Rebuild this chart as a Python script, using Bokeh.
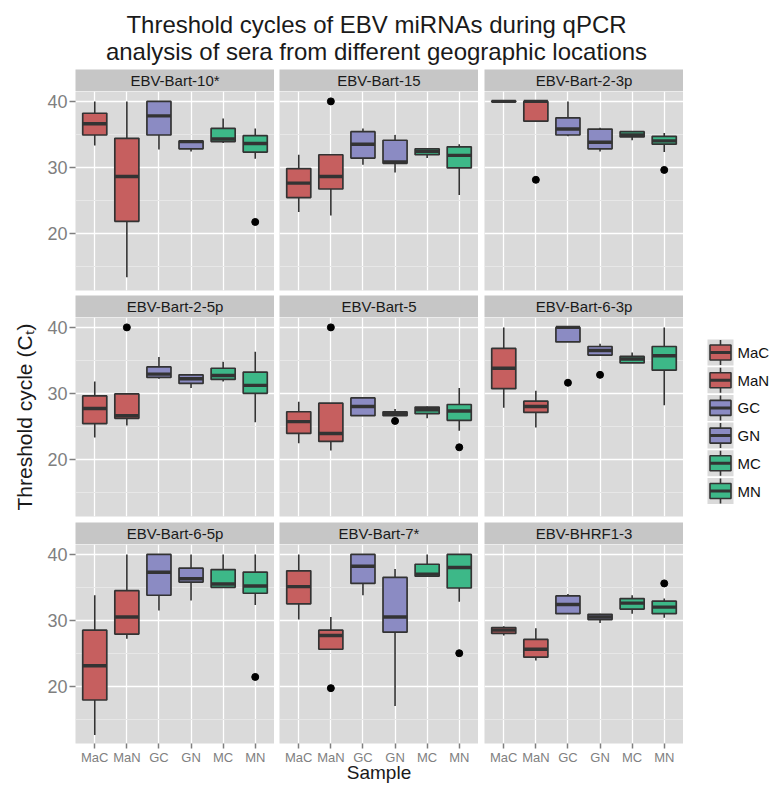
from bokeh.plotting import figure
from bokeh.layouts import row, column
from bokeh.models import (Range1d, FactorRange, Label, SingleIntervalTicker,
                          CategoricalTicker, Grid, ColumnDataSource)
from bokeh.transform import dodge
from bokeh.core.properties import value
from bokeh.embed import file_html
from bokeh.resources import INLINE

# ---------------- data ----------------
panels = ["EBV-Bart-10*", "EBV-Bart-15", "EBV-Bart-2-3p",
          "EBV-Bart-2-5p", "EBV-Bart-5", "EBV-Bart-6-3p",
          "EBV-Bart-6-5p", "EBV-Bart-7*", "EBV-BHRF1-3"]
categories = ["MaC", "MaN", "GC", "GN", "MC", "MN"]
box_colors = ["#C65F5F", "#C65F5F", "#8B8BC3", "#8B8BC3", "#3DB888", "#3DB888"]

whisker_low = [
    [33.3, 13.3, 32.7, 32.4, 33.7, 31.3],
    [23.2, 22.7, 30.4, 29.2, 31.4, 25.8],
    [39.9, 37.0, 34.7, 32.4, 34.1, 32.3],
    [23.3, 25.1, 32.2, 30.8, 31.8, 25.6],
    [22.4, 21.3, 26.6, 26.6, 26.2, 24.3],
    [27.8, 24.8, 37.8, 35.8, 34.6, 28.2],
    [12.6, 27.2, 31.5, 33.0, 34.9, 32.3],
    [30.1, 25.6, 33.8, 17.0, 36.7, 32.8],
    [27.7, 23.9, 31.0, 29.6, 31.0, 30.4],
]
box_q1 = [
    [34.9, 21.8, 34.9, 32.8, 33.9, 32.3],
    [25.4, 26.7, 31.4, 30.6, 31.9, 29.9],
    [39.95, 37.0, 34.9, 32.8, 34.6, 33.5],
    [25.4, 26.2, 32.4, 31.5, 32.1, 30.0],
    [23.9, 22.7, 26.6, 26.6, 26.9, 25.9],
    [30.7, 27.1, 37.8, 35.8, 34.6, 33.5],
    [17.9, 27.9, 33.8, 35.8, 35.0, 34.1],
    [32.5, 25.6, 35.6, 28.2, 36.7, 34.9],
    [28.0, 24.4, 31.0, 30.1, 31.7, 31.0],
]
box_median = [
    [36.6, 28.6, 37.8, 33.9, 34.3, 33.6],
    [27.6, 28.6, 33.5, 30.8, 32.4, 31.8],
    [40.0, 40.0, 35.8, 33.8, 34.9, 34.0],
    [27.7, 26.6, 32.9, 32.2, 32.7, 31.2],
    [25.7, 23.9, 28.0, 26.9, 27.5, 27.3],
    [33.8, 28.0, 40.0, 36.5, 35.2, 35.7],
    [23.1, 30.5, 37.3, 36.3, 35.5, 35.2],
    [35.1, 27.7, 38.2, 30.5, 37.0, 38.0],
    [28.5, 25.6, 32.4, 30.5, 32.6, 32.0],
]
box_q3 = [
    [38.2, 34.4, 40.0, 34.0, 35.9, 34.8],
    [29.8, 31.9, 35.4, 34.1, 32.8, 33.1],
    [40.05, 40.0, 37.5, 35.8, 35.4, 34.7],
    [29.6, 29.9, 34.0, 32.8, 33.8, 33.2],
    [27.2, 28.5, 29.3, 27.2, 27.9, 28.3],
    [36.8, 28.8, 40.0, 37.1, 35.6, 37.1],
    [28.5, 34.5, 40.0, 37.9, 37.7, 37.3],
    [37.5, 28.5, 40.0, 36.5, 38.5, 40.0],
    [28.9, 27.1, 33.7, 30.9, 33.3, 32.9],
]
whisker_high = [
    [40.0, 40.0, 40.0, 34.1, 37.4, 35.9],
    [31.9, 31.9, 35.9, 34.9, 32.8, 33.5],
    [40.1, 40.0, 40.0, 36.0, 35.5, 35.2],
    [31.8, 30.0, 35.5, 32.8, 34.8, 36.3],
    [28.7, 28.5, 29.3, 27.6, 28.0, 30.8],
    [40.0, 30.4, 40.0, 37.5, 36.2, 40.0],
    [33.8, 40.0, 40.0, 40.0, 40.0, 40.0],
    [40.0, 30.5, 40.0, 37.8, 40.0, 40.0],
    [29.1, 28.8, 34.0, 31.0, 33.8, 33.3],
]
outlier_panel = [0, 1, 2, 2, 3, 4, 4, 4, 5, 5, 6, 7, 7, 8]
outlier_category = ["MN", "MaN", "MaN", "MN", "MaN", "MaN", "GN", "MN",
                    "GC", "GN", "MN", "MaN", "MN", "MN"]
outlier_value = [21.7, 40.0, 28.1, 29.6, 40.0, 40.0, 25.8, 21.8,
                 31.6, 32.8, 21.4, 19.7, 25.0, 35.6]

title_lines = ["Threshold cycles of EBV miRNAs during qPCR",
               "analysis of sera from different geographic locations"]
y_label = "Threshold cycle (C\u209c)"
x_label = "Sample"

# ---------------- style / layout ----------------
FONT = "Liberation Sans"
PANEL_BG = "#DADADA"
STRIP_BG = "#C6C6C6"
MINOR = "#E7E7E7"
EDGE = "#333333"
AXIS_GREY = "#7F7F7F"
FRAME_W, FRAME_H, STRIP_H = 199, 199, 22
LEFT = [75, 5, 6]
BOTTOM = [5, 6, 43]
TITLE_H = 69
LEGEND_W = 87
TOTAL_W = sum(LEFT) + 3 * FRAME_W + LEGEND_W
Y_START, Y_END = 11.3, 41.5


def make_strip(name, lb):
    s = figure(width=lb + FRAME_W, height=STRIP_H, x_range=Range1d(0, 1),
               y_range=Range1d(0, 1), x_axis_location=None, y_axis_location=None,
               output_backend="svg", toolbar_location=None,
               min_border_left=lb, min_border_right=0, min_border_top=0,
               min_border_bottom=0)
    s.grid.visible = False
    s.background_fill_color = STRIP_BG
    s.border_fill_color = "white"
    s.outline_line_color = None
    s.add_layout(Label(x=0.5, y=0.5, text=name, text_align="center",
                       text_baseline="middle", text_font=FONT,
                       text_font_size="15px", text_color="#1A1A1A"))
    return s


def make_panel(i):
    r, c = divmod(i, 3)
    lb, bb = LEFT[c], BOTTOM[r]
    p = figure(width=lb + FRAME_W, height=FRAME_H + bb,
               x_range=FactorRange(factors=categories, range_padding=0.1,
                                   range_padding_units="absolute"),
               y_range=Range1d(Y_START, Y_END),
               x_axis_location="below" if r == 2 else None,
               y_axis_location="left" if c == 0 else None,
               output_backend="svg", toolbar_location=None,
               min_border_left=lb, min_border_right=0, min_border_top=0,
               min_border_bottom=bb)
    p.background_fill_color = PANEL_BG
    p.border_fill_color = "white"
    p.outline_line_color = None
    yt = SingleIntervalTicker(interval=10, num_minor_ticks=2)
    if c == 0:
        p.yaxis.ticker = yt
        ax = p.yaxis[0]
        ax.axis_line_color = None
        ax.major_tick_line_color = AXIS_GREY
        ax.major_tick_line_width = 1.5
        ax.major_tick_out = 6
        ax.major_tick_in = 0
        ax.minor_tick_line_color = None
        ax.major_label_text_font = FONT
        ax.major_label_text_font_size = "18px"
        ax.major_label_text_color = AXIS_GREY
        ax.major_label_standoff = 2
        if r == 1:
            ax.axis_label = y_label
            ax.axis_label_text_font = FONT
            ax.axis_label_text_font_size = "21px"
            ax.axis_label_text_font_style = "normal"
            ax.axis_label_text_color = "#1A1A1A"
            ax.axis_label_standoff = 8
    if r == 2:
        ax = p.xaxis[0]
        ax.axis_line_color = None
        ax.major_tick_line_color = AXIS_GREY
        ax.major_tick_line_width = 1.5
        ax.major_tick_out = 5
        ax.major_tick_in = 0
        ax.minor_tick_line_color = None
        ax.major_label_text_font = FONT
        ax.major_label_text_font_size = "13px"
        ax.major_label_text_color = AXIS_GREY
        ax.major_label_standoff = 1
        if c == 1:
            ax.axis_label = x_label
            ax.axis_label_text_font = FONT
            ax.axis_label_text_font_size = "19px"
            ax.axis_label_text_font_style = "normal"
            ax.axis_label_text_color = "#1A1A1A"
            ax.axis_label_standoff = -6
    # grids
    p.center = []
    p.add_layout(Grid(dimension=0, ticker=CategoricalTicker(),
                      grid_line_color="white", grid_line_width=1.3))
    p.add_layout(Grid(dimension=1, ticker=yt, grid_line_color="white",
                      grid_line_width=1.4, minor_grid_line_color=MINOR,
                      minor_grid_line_width=1.0))

    src = ColumnDataSource(dict(cat=categories, lo=whisker_low[i], q1=box_q1[i],
                                med=box_median[i], q3=box_q3[i],
                                hi=whisker_high[i], color=box_colors))
    p.segment(x0="cat", y0="q3", x1="cat", y1="hi", source=src,
              line_color=EDGE, line_width=1.6)
    p.segment(x0="cat", y0="lo", x1="cat", y1="q1", source=src,
              line_color=EDGE, line_width=1.6)
    p.vbar(x="cat", width=0.75, bottom="q1", top="q3", source=src,
           fill_color="color", line_color=EDGE, line_width=1.7)
    p.segment(x0=dodge("cat", -0.375, range=p.x_range), y0="med",
              x1=dodge("cat", 0.375, range=p.x_range), y1="med", source=src,
              line_color=EDGE, line_width=3.4)
    ox = [outlier_category[k] for k in range(len(outlier_panel)) if outlier_panel[k] == i]
    oy = [outlier_value[k] for k in range(len(outlier_panel)) if outlier_panel[k] == i]
    if ox:
        p.scatter(x=ox, y=oy, size=7, color="black")
    return p


cols = []
for c in range(3):
    items = []
    for r in range(3):
        i = r * 3 + c
        items.append(make_strip(panels[i], LEFT[c]))
        items.append(make_panel(i))
    cols.append(column(*items))

col_h = 3 * STRIP_H + 3 * FRAME_H + sum(BOTTOM)

# legend
lg = figure(width=LEGEND_W, height=col_h, x_range=Range1d(0, LEGEND_W),
            y_range=Range1d(col_h, 0), x_axis_location=None, y_axis_location=None,
            output_backend="svg", toolbar_location=None, min_border=0)
lg.background_fill_color = "white"
lg.border_fill_color = "white"
lg.outline_line_color = None
lg.grid.visible = False
ky = [283 + 27.7 * k for k in range(len(categories))]
kx = [37] * len(categories)
lsrc = ColumnDataSource(dict(x=kx, y=ky, label=categories, color=box_colors,
                             ytop=[v - 12.5 for v in ky], ybot=[v + 12.5 for v in ky],
                             xl=[v - 10.5 for v in kx], xr=[v + 10.5 for v in kx],
                             tx=[54] * len(categories)))
lg.rect(x="x", y="y", width=26, height=26, source=lsrc, fill_color=PANEL_BG,
        line_color=None)
lg.segment(x0="x", y0="ytop", x1="x", y1="ybot", source=lsrc, line_color=EDGE,
           line_width=1.6)
lg.rect(x="x", y="y", width=21, height=15, source=lsrc, fill_color="color",
        line_color=EDGE, line_width=1.6)
lg.segment(x0="xl", y0="y", x1="xr", y1="y", source=lsrc, line_color=EDGE,
           line_width=3.0)
lg.text(x="tx", y="y", text="label", source=lsrc, text_baseline="middle",
        text_align="left", text_font=value(FONT), text_font_size="15px",
        text_color="#111111")

# title
tf = figure(width=TOTAL_W, height=TITLE_H, x_range=Range1d(0, TOTAL_W),
            y_range=Range1d(TITLE_H, 0), x_axis_location=None, y_axis_location=None,
            output_backend="svg", toolbar_location=None, min_border=0)
tf.outline_line_color = None
tf.grid.visible = False
for txt, yb in zip(title_lines, [24, 51]):
    tf.add_layout(Label(x=376, y=yb, text=txt, text_align="center",
                        text_baseline="alphabetic", text_font=FONT,
                        text_font_size="24px", text_color="#1A1A1A"))

layout = column(tf, row(*cols, lg))
open("out.html", "w").write(file_html(layout, INLINE))
